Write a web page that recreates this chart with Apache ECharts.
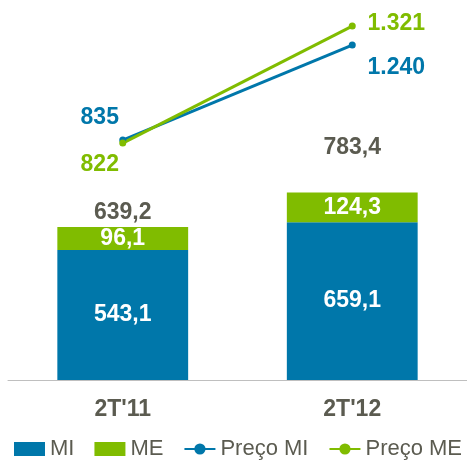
<!DOCTYPE html>
<html>
<head>
<meta charset="utf-8">
<script src="https://cdn.jsdelivr.net/npm/echarts@6/dist/echarts.min.js"></script>
<style>
html, body { margin: 0; padding: 0; background: #fff; }
#main { width: 467px; height: 461px; }
</style>
</head>
<body>
<div id="main"></div>
<script>
// dados do gráfico
var categorias = ["2T'11", "2T'12"];
var volumeMI = [543.1, 659.1];
var volumeME = [96.1, 124.3];
var totais = [639.2, 783.4];
var precoMI = [835, 1240];
var precoME = [822, 1321];

var azul = '#0077AA';
var verde = '#80BC00';
var cinza = '#5B5B50';
var fonte = '"Liberation Sans", Arial, sans-serif';
var tam = 23;

function fmtDec(v) {
	return v.toFixed(1).replace('.', ',');
}
function fmtMil(v) {
	return String(v).replace(/\B(?=(\d{3})+(?!\d))/g, '.');
}

var myChart = echarts.init(document.getElementById('main'));
var option = {
	animation: false,
	textStyle: { fontFamily: fonte },
	grid: { left: 8, right: 0, top: 16, bottom: 81 },
	legend: {
		left: 14,
		top: 438,
		padding: 0,
		itemWidth: 31,
		itemHeight: 14,
		itemGap: 20,
		textStyle: { color: cinza, fontSize: 22, fontFamily: fonte },
		data: [
			{ name: 'MI', icon: 'rect' },
			{ name: 'ME', icon: 'rect' },
			'Preço MI',
			'Preço ME'
		]
	},
	xAxis: {
		type: 'category',
		data: categorias,
		axisLine: { lineStyle: { color: '#BFBFBF', width: 1 } },
		axisTick: { show: false },
		axisLabel: { color: cinza, fontSize: tam, fontWeight: 'bold', margin: 18, fontFamily: fonte }
	},
	yAxis: [{
		type: 'value', min: 0, max: 1520, show: false, splitLine: { show: false }
	}, {
		type: 'value', min: -188, max: 1364, show: false, splitLine: { show: false }
	}],
	series: [{
		name: 'MI',
		type: 'bar',
		stack: 'vol',
		barWidth: '57%',
		itemStyle: { color: azul },
		label: {
			show: true, position: 'inside', color: '#fff', fontSize: tam, fontWeight: 'bold',
			fontFamily: fonte,
			formatter: function(p) { return fmtDec(p.value); }
		},
		data: volumeMI
	}, {
		name: 'ME',
		type: 'bar',
		stack: 'vol',
		itemStyle: { color: verde },
		label: {
			show: true, position: 'inside', color: '#fff', fontSize: tam, fontWeight: 'bold',
			fontFamily: fonte,
			formatter: function(p) { return fmtDec(p.value); }
		},
		data: volumeME
	}, {
		name: 'Total',
		type: 'scatter',
		symbolSize: 1,
		silent: true,
		itemStyle: { color: 'rgba(0,0,0,0)', opacity: 1 },
		label: {
			show: true, position: 'top', color: cinza, fontSize: tam, fontWeight: 'bold',
			fontFamily: fonte, distance: 2,
			formatter: function(p) { return fmtDec(p.value); }
		},
		data: [
			{ value: totais[0] },
			{ value: totais[1], label: { offset: [0, -31] } }
		]
	}, {
		name: 'Preço MI',
		type: 'line',
		yAxisIndex: 1,
		symbol: 'circle',
		symbolSize: 7,
		lineStyle: { color: azul, width: 3 },
		itemStyle: { color: azul },
		label: {
			show: true, color: azul, fontSize: tam, fontWeight: 'bold', fontFamily: fonte,
			formatter: function(p) { return fmtMil(p.value); }
		},
		data: [
			{ value: precoMI[0], label: { position: 'inside', offset: [-23, -22] } },
			{ value: precoMI[1], label: { position: 'inside', offset: [44, 23] } }
		]
	}, {
		name: 'Preço ME',
		type: 'line',
		yAxisIndex: 1,
		symbol: 'circle',
		symbolSize: 7,
		lineStyle: { color: verde, width: 3 },
		itemStyle: { color: verde },
		label: {
			show: true, color: verde, fontSize: tam, fontWeight: 'bold', fontFamily: fonte,
			formatter: function(p) { return fmtMil(p.value); }
		},
		data: [
			{ value: precoME[0], label: { position: 'inside', offset: [-23, 22] } },
			{ value: precoME[1], label: { position: 'inside', offset: [44, -2] } }
		]
	}]
};
myChart.setOption(option);
</script>
</body>
</html>
